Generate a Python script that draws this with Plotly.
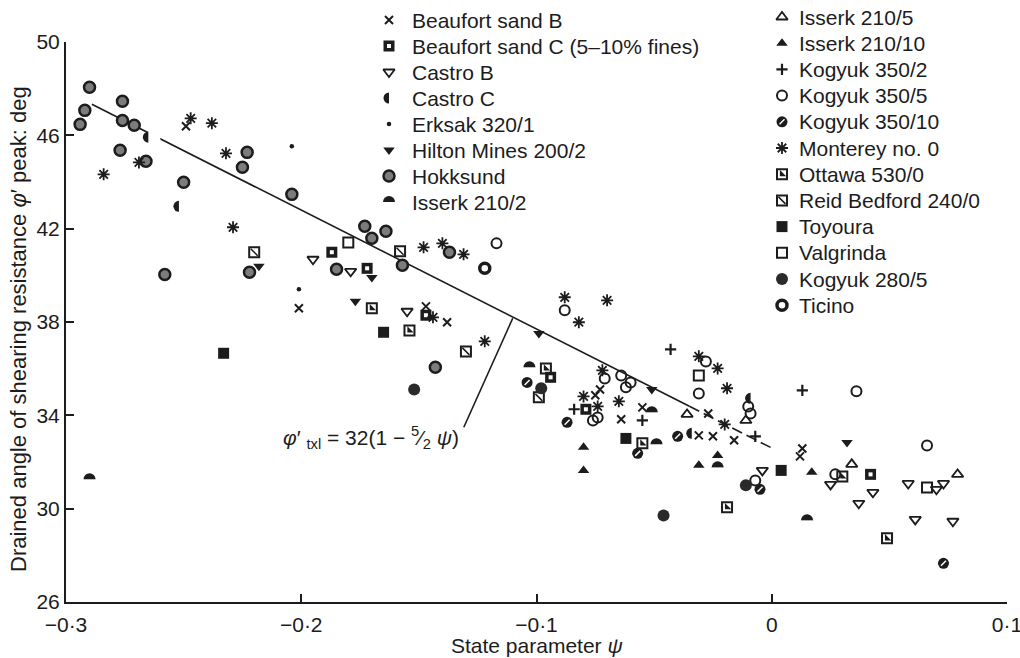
import plotly.graph_objects as go

# ---------------------------------------------------------------------------
# Figure geometry (pixels)
# ---------------------------------------------------------------------------
FIG_W, FIG_H = 1020, 658
PLOT_LEFT, PLOT_RIGHT, PLOT_TOP, PLOT_BOTTOM = 66, 1007, 42, 602
X_RANGE = [-0.3, 0.1]
Y_RANGE = [26, 50]
PSI_PER_PX = (X_RANGE[1] - X_RANGE[0]) / (PLOT_RIGHT - PLOT_LEFT)
PHI_PER_PX = (Y_RANGE[1] - Y_RANGE[0]) / (PLOT_BOTTOM - PLOT_TOP)

INK = '#1c1c1c'
FONT = 'Liberation Sans, Arial, Helvetica, sans-serif'

# ---------------------------------------------------------------------------
# Axis ticks
# ---------------------------------------------------------------------------
x_tickvals = [-0.3, -0.2, -0.1, 0.0, 0.1]
x_ticktext = ['−0·3', '−0·2', '−0·1', '0', '0·1']
y_tickvals = [26, 30, 34, 38, 42, 46, 50]

# ---------------------------------------------------------------------------
# Data: state parameter psi and peak drained friction angle phi' (deg)
# ---------------------------------------------------------------------------
beaufort_b_psi = [-0.249, -0.201, -0.147, -0.138, -0.073, -0.075, -0.055, -0.064,
                  -0.027, -0.031, -0.025, -0.016, 0.013, 0.012]
beaufort_b_phi = [46.39, 38.59, 38.67, 37.99, 35.11, 34.86, 34.34, 33.83,
                  34.08, 33.14, 33.10, 32.93, 32.58, 32.24]

beaufort_c_psi = [-0.187, -0.172, -0.147, -0.094, -0.079, 0.042]
beaufort_c_phi = [40.99, 40.30, 38.29, 35.63, 34.26, 31.47]

castro_b_psi = [-0.195, -0.179, -0.155, -0.004, 0.025, 0.043, 0.037, 0.058,
                0.070, 0.073, 0.061, 0.077]
castro_b_phi = [40.69, 40.17, 38.46, 31.64, 31.04, 30.70, 30.23, 31.08,
                30.83, 31.08, 29.54, 29.46]

castro_c_psi = [-0.265, -0.252, -0.034, -0.009]
castro_c_phi = [45.92, 42.96, 33.23, 34.73]

erksak_psi = [-0.204, -0.201]
erksak_phi = [45.53, 39.40]

hilton_psi = [-0.218, -0.177, -0.170, -0.099, -0.051, 0.032]
hilton_phi = [40.39, 38.89, 39.91, 37.51, 35.11, 32.84]

hokksund_psi = [-0.290, -0.292, -0.294, -0.276, -0.276, -0.271, -0.277, -0.266,
                -0.250, -0.223, -0.225, -0.204, -0.258, -0.222, -0.185, -0.173,
                -0.170, -0.164, -0.157, -0.137, -0.143]
hokksund_phi = [48.06, 47.07, 46.47, 47.46, 46.64, 46.43, 45.36, 44.89,
                43.99, 45.27, 44.63, 43.47, 40.04, 40.13, 40.26, 42.10,
                41.59, 41.89, 40.43, 40.99, 36.06]

isserk_2_psi = [-0.290, -0.103, -0.051, -0.049, -0.023, 0.015]
isserk_2_phi = [31.26, 36.06, 34.13, 32.76, 31.77, 29.50]

isserk_5_psi = [-0.036, -0.011, 0.034, 0.079]
isserk_5_phi = [34.04, 33.78, 31.90, 31.47]

isserk_10_psi = [-0.080, -0.080, -0.031, -0.023, 0.017]
isserk_10_phi = [32.63, 31.64, 31.86, 32.28, 31.56]

kogyuk_350_2_psi = [-0.084, -0.055, -0.043, -0.007, 0.013]
kogyuk_350_2_phi = [34.26, 33.78, 36.83, 33.10, 35.07]

kogyuk_350_5_psi = [-0.117, -0.088, -0.071, -0.064, -0.060, -0.062, -0.076, -0.074,
                    -0.028, -0.031, -0.010, -0.009, -0.007, 0.027, 0.036, 0.066]
kogyuk_350_5_phi = [41.37, 38.50, 35.58, 35.71, 35.41, 35.20, 33.78, 33.91,
                    36.31, 34.94, 34.38, 34.08, 31.21, 31.47, 35.03, 32.71]

kogyuk_350_10_psi = [-0.104, -0.087, -0.057, -0.040, -0.005, 0.073]
kogyuk_350_10_phi = [35.41, 33.70, 32.37, 33.10, 30.83, 27.66]

monterey_psi = [-0.284, -0.269, -0.247, -0.238, -0.232, -0.229, -0.148, -0.140,
                -0.131, -0.144, -0.122, -0.088, -0.082, -0.070, -0.072, -0.080,
                -0.074, -0.065, -0.031, -0.023, -0.019, -0.020]
monterey_phi = [44.33, 44.84, 46.73, 46.52, 45.23, 42.06, 41.20, 41.37,
                40.90, 38.20, 37.17, 39.06, 37.99, 38.93, 35.93, 34.81,
                34.38, 34.60, 36.53, 36.01, 35.16, 33.61]

ottawa_psi = [-0.170, -0.154, -0.096, -0.055, -0.019, 0.030, 0.049]
ottawa_phi = [38.59, 37.64, 36.01, 32.80, 30.06, 31.38, 28.73]

reid_bedford_psi = [-0.220, -0.158, -0.130, -0.099]
reid_bedford_phi = [40.99, 41.03, 36.74, 34.77]

toyoura_psi = [-0.233, -0.165, -0.062, 0.004]
toyoura_phi = [36.66, 37.56, 33.01, 31.64]

valgrinda_psi = [-0.180, -0.031, 0.066]
valgrinda_phi = [41.41, 35.71, 30.91]

kogyuk_280_5_psi = [-0.152, -0.098, -0.046, -0.011]
kogyuk_280_5_phi = [35.11, 35.16, 29.71, 31.00]

ticino_psi = [-0.122]
ticino_phi = [40.30]

# Trend line through the data (solid part, then dashed towards psi = 0)
trend_psi = [-0.289, -0.035, 0.0]
trend_phi = [47.33, 34.39, 32.60]

# ---------------------------------------------------------------------------
# Marker styles: each symbol is a stack of plotly marker layers.
# dx / dy are screen-pixel offsets (dy positive = downwards).
# ---------------------------------------------------------------------------
def L(symbol, size, fill=INK, line=INK, lw=0, dx=0, dy=0):
    return dict(symbol=symbol, size=size, fill=fill, line=line, lw=lw, dx=dx, dy=dy)

STYLE = {
    'Beaufort sand B': [L('x-thin-open', 8, lw=2)],
    'Beaufort sand C (5–10% fines)': [L('square', 11), L('square', 4, fill='white', line='white')],
    'Castro B': [L('triangle-down-open', 10, lw=1.8)],
    'Castro C': [L('circle', 11), L('square', 12, fill='white', line='white', dx=6)],
    'Erksak 320/1': [L('circle', 4.5)],
    'Hilton Mines 200/2': [L('triangle-down', 10)],
    'Hokksund': [L('circle', 11, fill='#7c7c7c', lw=2.5)],
    'Isserk 210/2': [L('circle', 12), L('square', 13, fill='white', line='white', dy=6.5)],
    'Isserk 210/5': [L('triangle-up-open', 10, lw=1.8)],
    'Isserk 210/10': [L('triangle-up', 10)],
    'Kogyuk 350/2': [L('cross-thin-open', 8, lw=2.2)],
    'Kogyuk 350/5': [L('circle-open', 10, lw=2)],
    'Kogyuk 350/10': [L('circle', 11), L('line-ne-open', 5, fill='white', line='white', lw=1.5)],
    'Monterey no. 0': [L('asterisk-open', 10, lw=1.8)],
    'Ottawa 530/0': [L('square-open', 10, lw=2), L('triangle-sw', 7)],
    'Reid Bedford 240/0': [L('square-open', 10, lw=2), L('line-nw-open', 7, lw=1.5)],
    'Toyoura': [L('square', 11)],
    'Valgrinda': [L('square-open', 10, lw=2)],
    'Kogyuk 280/5': [L('circle', 12, fill='#2a2a2a')],
    'Ticino': [L('circle-open', 10, lw=3.5)],
}

SERIES = {
    'Beaufort sand B': (beaufort_b_psi, beaufort_b_phi),
    'Beaufort sand C (5–10% fines)': (beaufort_c_psi, beaufort_c_phi),
    'Castro B': (castro_b_psi, castro_b_phi),
    'Castro C': (castro_c_psi, castro_c_phi),
    'Erksak 320/1': (erksak_psi, erksak_phi),
    'Hilton Mines 200/2': (hilton_psi, hilton_phi),
    'Hokksund': (hokksund_psi, hokksund_phi),
    'Isserk 210/2': (isserk_2_psi, isserk_2_phi),
    'Isserk 210/5': (isserk_5_psi, isserk_5_phi),
    'Isserk 210/10': (isserk_10_psi, isserk_10_phi),
    'Kogyuk 350/2': (kogyuk_350_2_psi, kogyuk_350_2_phi),
    'Kogyuk 350/5': (kogyuk_350_5_psi, kogyuk_350_5_phi),
    'Kogyuk 350/10': (kogyuk_350_10_psi, kogyuk_350_10_phi),
    'Monterey no. 0': (monterey_psi, monterey_phi),
    'Ottawa 530/0': (ottawa_psi, ottawa_phi),
    'Reid Bedford 240/0': (reid_bedford_psi, reid_bedford_phi),
    'Toyoura': (toyoura_psi, toyoura_phi),
    'Valgrinda': (valgrinda_psi, valgrinda_phi),
    'Kogyuk 280/5': (kogyuk_280_5_psi, kogyuk_280_5_phi),
    'Ticino': (ticino_psi, ticino_phi),
}

LEGEND_LEFT = ['Beaufort sand B', 'Beaufort sand C (5–10% fines)', 'Castro B', 'Castro C',
               'Erksak 320/1', 'Hilton Mines 200/2', 'Hokksund', 'Isserk 210/2']
LEGEND_RIGHT = ['Isserk 210/5', 'Isserk 210/10', 'Kogyuk 350/2', 'Kogyuk 350/5',
                'Kogyuk 350/10', 'Monterey no. 0', 'Ottawa 530/0', 'Reid Bedford 240/0',
                'Toyoura', 'Valgrinda', 'Kogyuk 280/5', 'Ticino']

fig = go.Figure()


def add_marks(xs, ys, layers, xaxis='x', yaxis='y', sx=1.0, sy=1.0):
    for lay in layers:
        ox = lay['dx'] * sx
        oy = lay['dy'] * sy
        fig.add_trace(go.Scatter(
            x=[v + ox for v in xs], y=[v + oy for v in ys],
            mode='markers', xaxis=xaxis, yaxis=yaxis,
            marker=dict(symbol=lay['symbol'], size=lay['size'], color=lay['fill'],
                        line=dict(color=lay['line'], width=lay['lw'])),
            cliponaxis=False, hoverinfo='skip', showlegend=False))


# Trend line
fig.add_trace(go.Scatter(x=trend_psi[:2], y=trend_phi[:2], mode='lines',
                         line=dict(color=INK, width=1.6), hoverinfo='skip', showlegend=False))
fig.add_trace(go.Scatter(x=trend_psi[1:], y=trend_phi[1:], mode='lines',
                         line=dict(color=INK, width=1.6, dash='11px,5px'),
                         hoverinfo='skip', showlegend=False))

# Masked (half-disc) symbols first so the other marks sit on top of them
draw_order = ['Castro C', 'Isserk 210/2'] + [k for k in SERIES if k not in ('Castro C', 'Isserk 210/2')]
for name in draw_order:
    xs, ys = SERIES[name]
    add_marks(xs, ys, STYLE[name], sx=PSI_PER_PX, sy=-PHI_PER_PX)

# ---------------------------------------------------------------------------
# Two-column key, drawn on a full-page pixel axis pair (x2 / y2)
# ---------------------------------------------------------------------------
annotations = []
for names, sym_x, text_x, y0, dy in [(LEGEND_LEFT, 389, 410, 20, 26.0),
                                     (LEGEND_RIGHT, 782, 797, 17, 26.2)]:
    for i, name in enumerate(names):
        yy = y0 + i * dy
        add_marks([sym_x], [yy], STYLE[name], xaxis='x2', yaxis='y2')
        annotations.append(dict(x=text_x, y=yy, xref='x2', yref='y2', text=name,
                                xanchor='left', yanchor='middle', showarrow=False,
                                font=dict(family=FONT, size=21, color=INK)))

# Equation label with leader line
annotations.append(dict(x=-0.2085, y=33.05, xref='x', yref='y',
                        text='<i>φ</i>′ <sub>txl</sub> = 32(1 − <sup>5</sup>⁄<sub>2</sub> <i>ψ</i>)',
                        xanchor='left', yanchor='middle', showarrow=False,
                        font=dict(family=FONT, size=21, color=INK)))

# Axis titles (page coordinates)
annotations.append(dict(x=(PLOT_LEFT + PLOT_RIGHT) / 2 / FIG_W, y=1 - 645 / FIG_H,
                        xref='paper', yref='paper',
                        text='State parameter <i>ψ</i>', xanchor='center', yanchor='middle',
                        showarrow=False, font=dict(family=FONT, size=21, color=INK)))
annotations.append(dict(x=18 / FIG_W, y=1 - 329 / FIG_H, xref='paper', yref='paper',
                        text='Drained angle of shearing resistance <i>φ</i>′ peak: deg',
                        textangle=-90, xanchor='center', yanchor='middle',
                        showarrow=False, font=dict(family=FONT, size=22, color=INK)))

axis_common = dict(showgrid=False, zeroline=False, showline=True, linecolor=INK, linewidth=2,
                   ticks='inside', ticklen=8, tickwidth=1.5, tickcolor=INK,
                   tickfont=dict(family=FONT, size=21, color=INK), automargin=False,
                   ticklabeloverflow='allow')

fig.update_layout(
    width=FIG_W, height=FIG_H,
    margin=dict(l=0, r=0, t=0, b=0, pad=0),
    paper_bgcolor='white', plot_bgcolor='rgba(0,0,0,0)',
    showlegend=False,
    font=dict(family=FONT, color=INK),
    xaxis=dict(range=X_RANGE, tickvals=x_tickvals, ticktext=x_ticktext,
               domain=[PLOT_LEFT / FIG_W, PLOT_RIGHT / FIG_W], anchor='y',
               ticklabelstandoff=3, **axis_common),
    yaxis=dict(range=Y_RANGE, tickvals=y_tickvals,
               domain=[1 - PLOT_BOTTOM / FIG_H, 1 - PLOT_TOP / FIG_H], anchor='x',
               **axis_common),
    xaxis2=dict(domain=[0, 1], anchor='y2', range=[0, FIG_W], visible=False, fixedrange=True),
    yaxis2=dict(domain=[0, 1], anchor='x2', range=[FIG_H, 0], visible=False, fixedrange=True),
    annotations=annotations,
    shapes=[dict(type='line', xref='x', yref='y', x0=-0.1309, y0=33.49, x1=-0.1101, y1=38.16,
                 line=dict(color=INK, width=1.6))],
)

fig.write_html('out.html')
